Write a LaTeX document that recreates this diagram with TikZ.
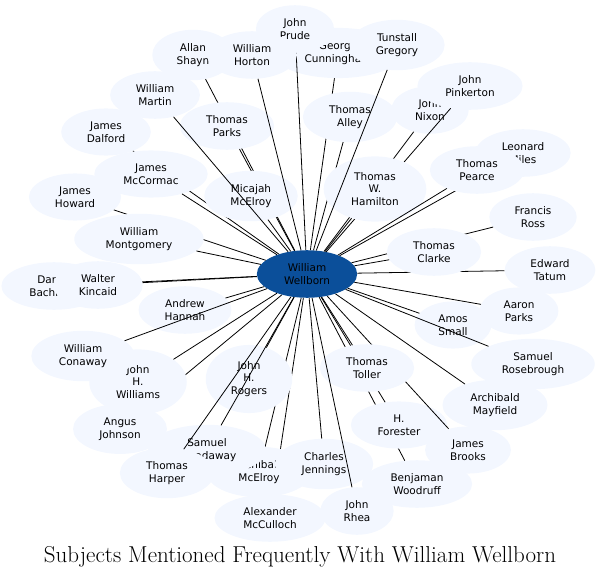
\documentclass[tikz,border=0pt]{standalone}
\usepackage{fontspec}
\usepackage{tikz}
\usetikzlibrary{shapes.geometric}
\newfontfamily\namefont{DejaVu Sans}
\definecolor{namefill}{RGB}{243,247,255}
\definecolor{hubfill}{RGB}{11,79,154}

\begin{document}
\begin{tikzpicture}[
    x=1bp, y=-1bp,
    person/.style={ellipse, fill=namefill, inner xsep=12.5bp, inner ysep=6.5bp, align=center, font=\namefont\fontsize{10.5bp}{12.5bp}\selectfont},
    hub/.style={person, fill=hubfill}
]
    \useasboundingbox (0,0) rectangle (601,580);

    % Centre
    \node[hub] (wellborn) at (307,274) {William\\Wellborn};

    % Upper left
    \node[person] (shayn) at (193,55) {Allan\\Shayn};
    \draw[thick] (wellborn) -- (shayn);
    \node[person] (tparks) at (227,126) {Thomas\\Parks};
    \draw[thick] (wellborn) -- (tparks);
    \node[person] (dalford) at (106,132) {James\\Dalford};
    \draw[thick] (wellborn) -- (dalford);
    \node[person] (mccormac) at (151,174) {James\\McCormac};
    \draw[thick] (wellborn) -- (mccormac);
    \node[person] (micajah) at (251,196) {Micajah\\McElroy};
    \draw[thick] (wellborn) -- (micajah);
    \node[person] (martin) at (155,95) {William\\Martin};
    \draw[thick] (wellborn) -- (martin);

    % Top
    \node[person] (cunningham) at (338,53) {George\\Cunningham};
    \draw[thick] (wellborn) -- (cunningham);
    \node[person] (prude) at (295,29) {John\\Prude};
    \draw[thick] (wellborn) -- (prude);
    \node[person] (horton) at (252,55) {William\\Horton};
    \draw[thick] (wellborn) -- (horton);
    \node[person] (alley) at (350,117) {Thomas\\Alley};
    \draw[thick] (wellborn) -- (alley);
    \node[person] (nixon) at (430,110) {John\\Nixon};
    \draw[thick] (wellborn) -- (nixon);
    \node[person] (pinkerton) at (470,86) {John\\Pinkerton};
    \draw[thick] (wellborn) -- (pinkerton);
    \node[person] (hamilton) at (375,189) {Thomas\\W.\\Hamilton};
    \draw[thick] (wellborn) -- (hamilton);
    \node[person] (gregory) at (397,45) {Tunstall\\Gregory};
    \draw[thick] (wellborn) -- (gregory);

    % Right
    \node[person] (miles) at (523,153) {Leonard\\Miles};
    \draw[thick] (wellborn) -- (miles);
    \node[person] (pearce) at (477,170) {Thomas\\Pearce};
    \draw[thick] (wellborn) -- (pearce);
    \node[person] (ross) at (533,217) {Francis\\Ross};
    \draw[thick] (wellborn) -- (ross);
    \node[person] (tatum) at (550,270) {Edward\\Tatum};
    \draw[thick] (wellborn) -- (tatum);
    \node[person] (clarke) at (434,252) {Thomas\\Clarke};
    \draw[thick] (wellborn) -- (clarke);
    \node[person] (aparks) at (519,311) {Aaron\\Parks};
    \draw[thick] (wellborn) -- (aparks);
    \node[person] (small) at (453,325) {Amos\\Small};
    \draw[thick] (wellborn) -- (small);
    \node[person] (rosebrough) at (533,364) {Samuel\\Rosebrough};
    \draw[thick] (wellborn) -- (rosebrough);
    \node[person] (mayfield) at (495,405) {Archibald\\Mayfield};
    \draw[thick] (wellborn) -- (mayfield);

    % Lower right
    \node[person] (woodruff) at (417,484) {Benjaman\\Woodruff};
    \draw[thick] (wellborn) -- (woodruff);
    \node[person] (forester) at (399,425) {H.\\Forester};
    \draw[thick] (wellborn) -- (forester);
    \node[person] (brooks) at (468,450) {James\\Brooks};
    \draw[thick] (wellborn) -- (brooks);
    \node[person] (toller) at (367,368) {Thomas\\Toller};
    \draw[thick] (wellborn) -- (toller);

    % Lower left
    \node[person] (mcculloch) at (270,518) {Alexander\\McCulloch};
    \draw[thick] (wellborn) -- (mcculloch);
    \node[person] (archibald) at (259,472) {Archibald\\McElroy};
    \draw[thick] (wellborn) -- (archibald);
    \node[person] (jennings) at (324,464) {Charles\\Jennings};
    \draw[thick] (wellborn) -- (jennings);
    \node[person] (rhea) at (357,511) {John\\Rhea};
    \draw[thick] (wellborn) -- (rhea);
    \node[person] (rogers) at (249,379) {John\\H.\\Rogers};
    \draw[thick] (wellborn) -- (rogers);
    \node[person] (broadaway) at (207,450) {Samuel\\Broadaway};
    \draw[thick] (wellborn) -- (broadaway);
    \node[person] (harper) at (167,473) {Thomas\\Harper};
    \draw[thick] (wellborn) -- (harper);
    \node[person] (johnson) at (120,429) {Angus\\Johnson};
    \draw[thick] (wellborn) -- (johnson);
    \node[person] (williams) at (138,382) {John\\H.\\Williams};
    \draw[thick] (wellborn) -- (williams);
    \node[person] (hannah) at (185,310) {Andrew\\Hannah};
    \draw[thick] (wellborn) -- (hannah);
    \node[person] (conaway) at (83,356) {William\\Conaway};
    \draw[thick] (wellborn) -- (conaway);

    % Left
    \node[person] (bachman) at (54,286) {Daniel\\Bachman};
    \draw[thick] (wellborn) -- (bachman);
    \node[person] (kincaid) at (98,285) {Walter\\Kincaid};
    \draw[thick] (wellborn) -- (kincaid);
    \node[person] (howard) at (75,197) {James\\Howard};
    \draw[thick] (wellborn) -- (howard);
    \node[person] (montgomery) at (139,239) {William\\Montgomery};
    \draw[thick] (wellborn) -- (montgomery);

    % Title
    \node[font=\fontsize{23bp}{27bp}\selectfont] (title) at (300,557) {Subjects Mentioned Frequently With William Wellborn};
\end{tikzpicture}
\end{document}
